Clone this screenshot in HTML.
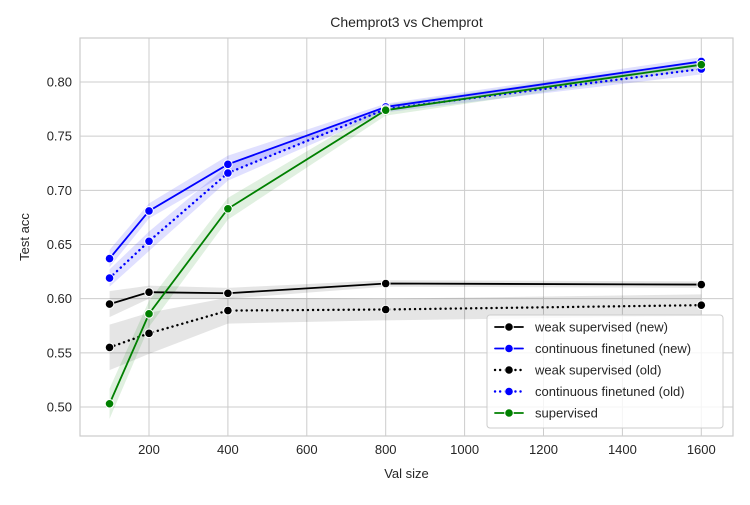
<!DOCTYPE html>
<html><head><meta charset="utf-8"><style>
body{margin:0;background:#fff;font-family:"Liberation Sans","DejaVu Sans",sans-serif}
</style></head><body>
<svg id="chart" width="750" height="500" xmlns="http://www.w3.org/2000/svg"></svg>
<script>
const xs=[100,200,400,800,1600];
const xTicks=[200,400,600,800,1000,1200,1400,1600];
const yTicks=[0.50,0.55,0.60,0.65,0.70,0.75,0.80];
const weakNew=[0.595,0.606,0.605,0.614,0.613];
const weakNewErr=[0.012,0.006,0.005,0.003,0.003];
const contNew=[0.637,0.681,0.724,0.777,0.819];
const contNewErr=[0.008,0.007,0.008,0.003,0.004];
const weakOld=[0.555,0.568,0.589,0.590,0.594];
const weakOldErr=[0.021,0.019,0.012,0.010,0.010];
const contOld=[0.619,0.653,0.716,0.775,0.812];
const contOldErr=[0.008,0.009,0.007,0.003,0.005];
const sup=[0.503,0.586,0.683,0.774,0.816];
const supErr=[0.014,0.012,0.010,0.005,0.004];
const seriesNames=["weak supervised (new)","continuous finetuned (new)","weak supervised (old)","continuous finetuned (old)","supervised"];

const L=80,R=733,T=38,B=436;
const X=v=>70.1+v*(78.9/200);
const Y=v=>407-(v-0.5)*1083.3;
const svg=document.getElementById('chart');
const NS="http://www.w3.org/2000/svg";
function mk(tag,attrs,parent){const e=document.createElementNS(NS,tag);for(const k in attrs)e.setAttribute(k,attrs[k]);(parent||svg).appendChild(e);return e;}

xTicks.forEach(t=>{const l=mk('line',{x1:X(t),x2:X(t),y1:T,y2:B,stroke:'#cccccc','stroke-width':1});

const tx=mk('text',{x:X(t),y:B+18,'text-anchor':'middle','font-size':13,fill:'#262626'});tx.textContent=t;
});
yTicks.forEach(t=>{const l=mk('line',{x1:L,x2:R,y1:Y(t),y2:Y(t),stroke:'#cccccc','stroke-width':1});

const tx=mk('text',{x:L-8,y:Y(t)+4.5,'text-anchor':'end','font-size':13,fill:'#262626'});tx.textContent=t.toFixed(2);
});
const fr=mk('rect',{x:L,y:T,width:R-L,height:B-T,fill:'none',stroke:'#cccccc','stroke-width':1.2});


const series=[
 {v:weakNew,e:weakNewErr,c:'black',d:null,band:'rgba(0,0,0,0.1)'},
 {v:contNew,e:contNewErr,c:'blue',d:null,band:'rgba(0,0,255,0.12)'},
 {v:weakOld,e:weakOldErr,c:'black',d:'0.1,5',band:'rgba(0,0,0,0.1)'},
 {v:contOld,e:contOldErr,c:'blue',d:'0.1,5',band:'rgba(0,0,255,0.12)'},
 {v:sup,e:supErr,c:'green',d:null,band:'rgba(0,128,0,0.12)'}
];
series.forEach((s,i)=>{
 const up=xs.map((x,j)=>X(x)+','+Y(s.v[j]+s.e[j]));
 const lo=xs.map((x,j)=>X(x)+','+Y(s.v[j]-s.e[j])).reverse();
 const b=mk('polygon',{points:up.concat(lo).join(' '),fill:s.band,stroke:'none'});
 
});
series.forEach((s,i)=>{
 const a={points:xs.map((x,j)=>X(x)+','+Y(s.v[j])).join(' '),fill:'none',stroke:s.c,'stroke-width':s.d?2.4:1.8,'stroke-linecap':'round'};
 if(s.d)a['stroke-dasharray']=s.d;
 const p=mk('polyline',a);
 
 xs.forEach((x,j)=>{const c=mk('circle',{cx:X(x),cy:Y(s.v[j]),r:4.3,fill:s.c,stroke:'#fff','stroke-width':1});
 });
});

const t1=mk('text',{x:(L+R)/2,y:27,'text-anchor':'middle','font-size':14,fill:'#262626'});t1.textContent='Chemprot3 vs Chemprot';

const t2=mk('text',{x:(L+R)/2,y:478,'text-anchor':'middle','font-size':13,fill:'#262626'});t2.textContent='Val size';

const t3=mk('text',{x:29,y:(T+B)/2,'text-anchor':'middle','font-size':13,fill:'#262626',transform:'rotate(-90 29 '+((T+B)/2)+')'});t3.textContent='Test acc';


const lg=mk('rect',{x:487,y:315,width:236,height:113,rx:3,fill:'rgba(255,255,255,0.8)',stroke:'#cccccc'});

series.forEach((s,i)=>{
 const y=327+i*21.5;
 const a={x1:495,x2:523,y1:y,y2:y,stroke:s.c,'stroke-width':s.d?2.4:1.8,'stroke-linecap':'round'};if(s.d)a['stroke-dasharray']=s.d;
 const l=mk('line',a);
 const c=mk('circle',{cx:509,cy:y,r:4.3,fill:s.c,stroke:'#fff','stroke-width':1});
 
 const t=mk('text',{x:535,y:y+4.5,'font-size':13,fill:'#262626'});t.textContent=seriesNames[i];
 
});
</script>
</body></html>
